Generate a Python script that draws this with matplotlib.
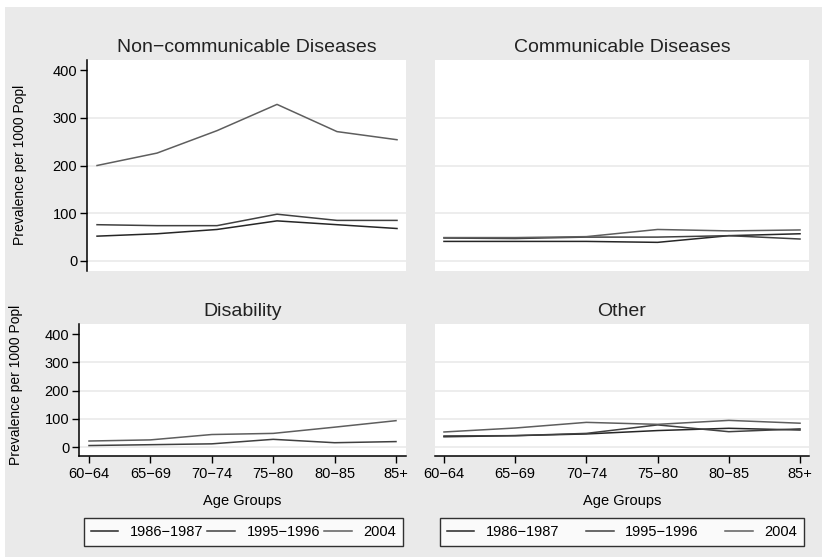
import numpy as np
import matplotlib
matplotlib.use("Agg")
import matplotlib.pyplot as plt
from matplotlib.patches import Rectangle

plt.rcParams['font.family'] = ['Liberation Sans', 'DejaVu Sans']

# data
age_groups = ["60\u221264", "65\u221269", "70\u221274", "75\u221280", "80\u221285", "85+"]
years = ["1986\u22121987", "1995\u22121996", "2004"]
titles = ["Non\u2212communicable Diseases", "Communicable Diseases", "Disability", "Other"]

ncd_1986 = [52, 57, 66, 84, 76, 68]
ncd_1995 = [76, 74, 74, 98, 85, 85]
ncd_2004 = [200, 226, 273, 328, 271, 254]

cd_1986 = [41, 41, 41, 39, 53, 57]
cd_1995 = [48, 47, 50, 50, 53, 46]
cd_2004 = [49, 49, 51, 66, 63, 65]

dis_1986 = [np.nan] * 6
dis_1995 = [6, 9, 12, 28, 16, 20]
dis_2004 = [22, 26, 45, 49, 71, 94]

oth_1986 = [37, 41, 47, 59, 67, 61]
oth_1995 = [40, 41, 49, 79, 55, 65]
oth_2004 = [54, 68, 88, 81, 95, 85]

panels = [
    [ncd_1986, ncd_1995, ncd_2004],
    [cd_1986, cd_1995, cd_2004],
    [dis_1986, dis_1995, dis_2004],
    [oth_1986, oth_1995, oth_2004],
]
line_colors = ["#262626", "#404040", "#5e5e5e"]

W, H = 825, 557
fig = plt.figure(figsize=(W / 100, H / 100), dpi=100, facecolor="white")
fig.patches.append(Rectangle((5 / W, 0), 817 / W, 550 / H, transform=fig.transFigure,
                             facecolor="#eaeaea", edgecolor="none", zorder=-10))

def box(x0, y0, x1, y1):
    return [x0 / W, 1 - y1 / H, (x1 - x0) / W, (y1 - y0) / H]

rects = [box(87, 60, 406, 271), box(435, 60, 809, 271),
         box(79, 324, 406, 456), box(435, 324, 809, 456)]
xlims = [(-0.167, 5.15), (-0.126, 5.126), (-0.163, 5.163), (-0.126, 5.126)]
ylims = [(-21, 421), (-21, 421), (-31, 436), (-31, 436)]
# legend boxes in axes fraction (x0, y0, w, h)
leg_boxes = {2: (5 / 327, -90 / 132, 319 / 327, 28 / 132),
             3: (5 / 374, -90 / 132, 364 / 374, 28 / 132)}

x = np.arange(len(age_groups))
for i, (rect, series) in enumerate(zip(rects, panels)):
    ax = fig.add_axes(rect)
    ax.set_facecolor("white")
    for s, c, lab in zip(series, line_colors, years):
        ax.plot(x, s, color=c, lw=1.1, label=lab, zorder=3)
    ax.set_xlim(*xlims[i])
    ax.set_ylim(*ylims[i])
    for g in [0, 100, 200, 300]:
        ax.axhline(g, color="#eaeaea", lw=1.2, zorder=1)
    ax.set_title(titles[i], fontsize=14, pad=6, color="#222222")
    for sp in ["top", "right"]:
        ax.spines[sp].set_visible(False)
    left = i in (0, 2)
    bottom = i in (2, 3)
    ax.spines["left"].set_visible(left)
    ax.spines["bottom"].set_visible(bottom)
    for sp in ["left", "bottom"]:
        ax.spines[sp].set_linewidth(1.1)
        ax.spines[sp].set_color("black")
    if left:
        ax.set_yticks([0, 100, 200, 300, 400])
        ax.tick_params(axis="y", length=5, width=1, labelsize=10.5, pad=2)
    else:
        ax.set_yticks([])
    if bottom:
        ax.set_xticks(x)
        ax.set_xticklabels(age_groups)
        ax.tick_params(axis="x", length=5, width=1, labelsize=10.5, pad=3)
        ax.set_xlabel("Age Groups", fontsize=10.5, labelpad=9)
        leg = ax.legend(loc="center", bbox_to_anchor=leg_boxes[i], mode="expand",
                        ncol=3, frameon=True, fancybox=False, fontsize=10.5,
                        handlelength=1.9, handletextpad=0.8, borderaxespad=0,
                        borderpad=0.45)
        leg.get_frame().set_edgecolor("black")
        leg.get_frame().set_linewidth(1)
    else:
        ax.set_xticks([])

fig.text(20 / W, 1 - 165 / H, "Prevalence per 1000 Popl", rotation=90,
         ha="center", va="center", fontsize=10)
fig.text(16 / W, 1 - 385 / H, "Prevalence per 1000 Popl", rotation=90,
         ha="center", va="center", fontsize=10)

fig.savefig("out.png", dpi=100, facecolor=fig.get_facecolor())
